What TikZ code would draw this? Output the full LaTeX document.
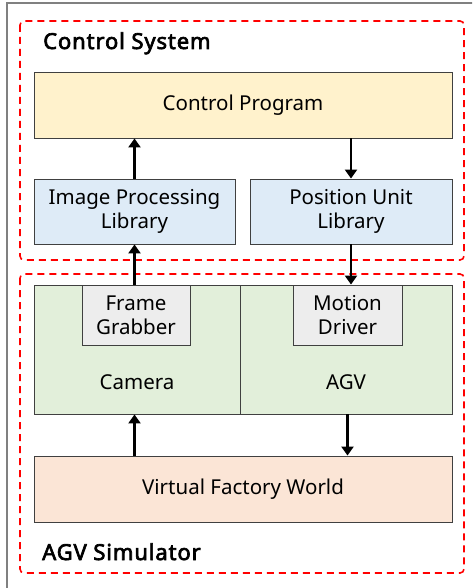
\documentclass[tikz,border=0pt]{standalone}
\usepackage{fontspec}
\setmainfont{Noto Sans}
\newfontfamily\titlefont{Noto Sans}[FakeBold=3, LetterSpace=4]
\usetikzlibrary{arrows.meta}
\definecolor{cpyellow}{RGB}{255,242,204}
\definecolor{libblue}{RGB}{222,235,247}
\definecolor{hwgreen}{RGB}{226,239,218}
\definecolor{drvgrey}{RGB}{237,237,237}
\definecolor{vfworange}{RGB}{251,229,214}
\definecolor{edgegrey}{RGB}{64,64,64}

\begin{document}
\begin{tikzpicture}[x=1pt,y=-1pt,
  box/.style={draw=edgegrey, line width=0.9pt, inner sep=0pt, align=center,
    font=\fontsize{20.5}{24}\selectfont},
  flow/.style={-{Triangle[length=9pt,width=12pt]}, line width=2.4pt},
  group/.style={draw=red, dash pattern=on 7pt off 5pt, line width=1.6pt, rounded corners=4pt},
  grouptitle/.style={anchor=base west, inner sep=0pt, font=\titlefont\fontsize{22}{26}\selectfont}]
\useasboundingbox (0,0) rectangle (472,588);
\clip (0,0) rectangle (472,588);
\draw [gray, line width=1.3pt] (7,3) rectangle (490,600);

% dashed groups
\draw [group] (20,21) rectangle (464,260);
\draw [group] (20,274) rectangle (464,573);
\node [grouptitle] (cs) at (43,49) {Control System};
\node [grouptitle] (sim) at (42,560) {AGV Simulator};

% control side
\node [box, fill=cpyellow, minimum width=418, minimum height=66] (cp) at (243,105) {Control Program};
\node [box, fill=libblue, minimum width=201, minimum height=65] (ipl) at (134.5,211.5) {Image Processing\\Library};
\node [box, fill=libblue, minimum width=202, minimum height=65] (pul) at (351,211.5) {Position Unit\\Library};

% simulator side
\node [box, fill=hwgreen, minimum width=206, minimum height=129] (cam) at (137,349.5) {};
\node [box, fill=hwgreen, minimum width=212, minimum height=129] (agv) at (346,349.5) {};
\node [box, draw=none] (camtxt) at (137,382) {Camera};
\node [box, draw=none] (agvtxt) at (346,382) {AGV};
\node [box, fill=drvgrey, minimum width=108, minimum height=60] (fg) at (136,315) {Frame\\Grabber};
\node [box, fill=drvgrey, minimum width=109, minimum height=60] (md) at (347.5,315) {Motion\\Driver};
\node [box, fill=vfworange, minimum width=418, minimum height=66] (vfw) at (243,489) {Virtual Factory World};

% arrows
\draw [flow] (ipl.north) -- (ipl.north |- cp.south);
\draw [flow] (pul.north |- cp.south) -- (pul.north);
\draw [flow] (ipl.south |- fg.north) -- (ipl.south);
\draw [flow] (pul.south) -- (pul.south |- md.north);
\draw [flow] (ipl.south |- vfw.north) -- (ipl.south |- cam.south);
\draw [flow] (md.south |- agv.south) -- (md.south |- vfw.north);

\end{tikzpicture}
\end{document}
